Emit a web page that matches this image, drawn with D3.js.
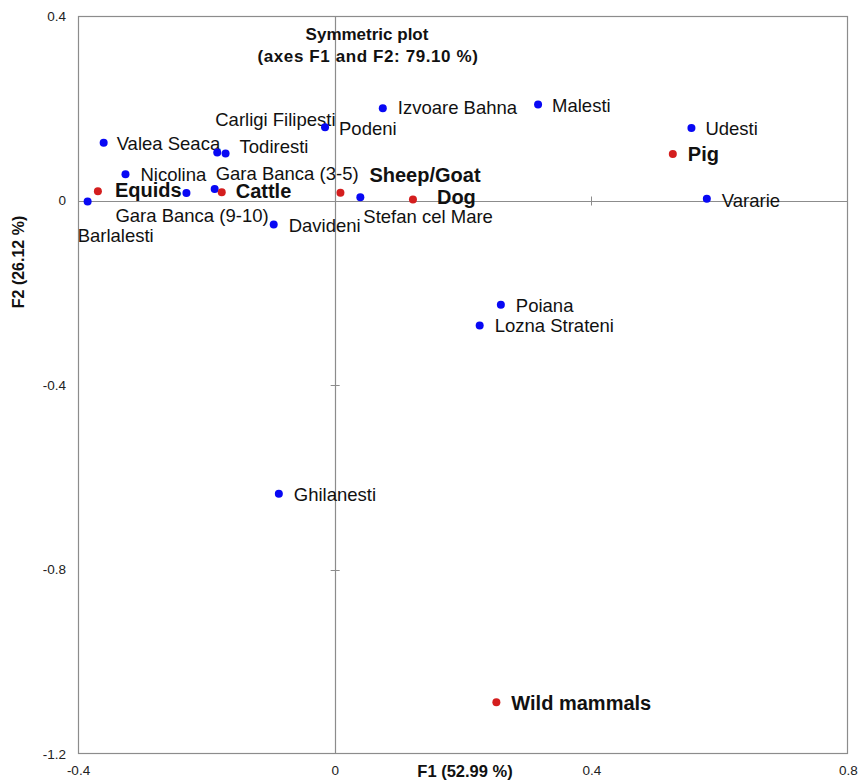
<!DOCTYPE html>
<html>
<head>
<meta charset="utf-8">
<script src="https://cdn.jsdelivr.net/npm/d3@7"></script>
<style>
  body { margin: 0; background: #fff; }
  svg { display: block; font-family: "Liberation Sans", Arial, sans-serif; }
</style>
</head>
<body>
<svg id="chart" width="859" height="781"></svg>
<script>
// Observations (sites), coordinates on F1 / F2
const siteNames = ["Barlalesti", "Valea Seaca", "Nicolina", "Gara Banca (9-10)", "Carligi Filipesti",
  "Todiresti", "Gara Banca (3-5)", "Davideni", "Podeni", "Izvoare Bahna", "Malesti",
  "Stefan cel Mare", "Udesti", "Vararie", "Poiana", "Lozna Strateni", "Ghilanesti"];
const siteF1 = [-0.385, -0.360, -0.326, -0.231, -0.183, -0.170, -0.187, -0.095, -0.015, 0.075, 0.317,
  0.040, 0.556, 0.580, 0.259, 0.226, -0.087];
const siteF2 = [-0.002, 0.125, 0.057, 0.016, 0.104, 0.102, 0.025, -0.052, 0.159, 0.200, 0.208,
  0.007, 0.157, 0.004, -0.226, -0.271, -0.636];

// Variables (taxa), coordinates on F1 / F2
const taxaNames = ["Equids", "Cattle", "Sheep/Goat", "Dog", "Pig", "Wild mammals"];
const taxaF1 = [-0.369, -0.176, 0.009, 0.122, 0.527, 0.252];
const taxaF2 = [0.020, 0.018, 0.017, 0.002, 0.101, -1.088];

// Axis ticks
const xTickValues = [-0.4, 0, 0.4, 0.8];
const yTickValues = [0.4, 0, -0.4, -0.8, -1.2];
const xTickLabels = ["-0.4", "0", "0.4", "0.8"];
const yTickLabels = ["0.4", "0", "-0.4", "-0.8", "-1.2"];

// Label offsets (px) from each point
const siteLabelOffsets = [[-10, 41], [13, 7], [15, 7], [-71, 29], [-2, -27], [14, 0], [1, -9], [15, 8],
  [14, 8], [15, 6], [14, 7], [3, 26], [14, 7], [15, 8], [15, 7], [15, 7], [15, 7]];
const taxaLabelOffsets = [[17, 6], [14, 6], [29, -11], [24, 4], [15, 7], [15, 8]];

const svg = d3.select("#chart");
const plotLeft = 78, plotRight = 848, plotTop = 16, plotBottom = 754;

const x = d3.scaleLinear().domain([-0.4, 0.8]).range([plotLeft, plotRight]);
const y = d3.scaleLinear().domain([-1.2, 0.4]).range([plotBottom, plotTop]);

const grey = "#8c8c8c";

// Plot frame
svg.append("rect")
  .attr("x", plotLeft + 0.5).attr("y", plotTop + 0.5)
  .attr("width", plotRight - plotLeft - 1).attr("height", plotBottom - plotTop - 1)
  .attr("fill", "none").attr("stroke", grey).attr("stroke-width", 1.2);

// Zero axes
svg.append("line")
  .attr("x1", Math.round(x(0)) + 0.5).attr("x2", Math.round(x(0)) + 0.5)
  .attr("y1", plotTop).attr("y2", plotBottom)
  .attr("stroke", grey).attr("stroke-width", 1.2);
svg.append("line")
  .attr("x1", plotLeft).attr("x2", plotRight)
  .attr("y1", Math.round(y(0)) + 0.5).attr("y2", Math.round(y(0)) + 0.5)
  .attr("stroke", grey).attr("stroke-width", 1.2);

// Cross ticks on the zero axes
svg.append("g").selectAll("line")
  .data(xTickValues.filter(v => v !== 0 && v > -0.4 && v < 0.8))
  .join("line")
  .attr("x1", d => Math.round(x(d)) + 0.5).attr("x2", d => Math.round(x(d)) + 0.5)
  .attr("y1", y(0) - 4).attr("y2", y(0) + 5)
  .attr("stroke", grey);
svg.append("g").selectAll("line")
  .data(yTickValues.filter(v => v !== 0 && v > -1.2 && v < 0.4))
  .join("line")
  .attr("y1", d => Math.round(y(d)) + 0.5).attr("y2", d => Math.round(y(d)) + 0.5)
  .attr("x1", x(0) - 4).attr("x2", x(0) + 5)
  .attr("stroke", grey);

// Tick labels
const xAxis = d3.axisBottom(x).tickValues(xTickValues)
  .tickFormat((d, i) => xTickLabels[i]).tickSize(0).tickPadding(11);
const gx = svg.append("g").attr("transform", `translate(0,${plotBottom})`).call(xAxis);
gx.select(".domain").remove();
gx.selectAll("text").attr("font-size", 13.5).attr("fill", "#222")
  .attr("font-family", "'Liberation Sans', Arial, sans-serif");

const yAxis = d3.axisLeft(y).tickValues(yTickValues)
  .tickFormat((d, i) => yTickLabels[i]).tickSize(0).tickPadding(12);
const gy = svg.append("g").attr("transform", `translate(${plotLeft},0)`).call(yAxis);
gy.select(".domain").remove();
gy.selectAll("text").attr("font-size", 13.5).attr("fill", "#222")
  .attr("font-family", "'Liberation Sans', Arial, sans-serif");

// Axis titles
svg.append("text")
  .attr("x", 465).attr("y", 777)
  .attr("text-anchor", "middle")
  .attr("font-size", 16.5).attr("font-weight", "bold").attr("fill", "#111")
  .text("F1 (52.99 %)");
svg.append("text")
  .attr("transform", "translate(24,262) rotate(-90)")
  .attr("text-anchor", "middle")
  .attr("font-size", 16).attr("font-weight", "bold").attr("fill", "#111")
  .text("F2 (26.12 %)");

// Chart title
const title = svg.append("text")
  .attr("text-anchor", "middle")
  .attr("font-size", 17).attr("font-weight", "bold").attr("fill", "#111");
title.append("tspan").attr("x", 367).attr("y", 40).text("Symmetric plot");
title.append("tspan").attr("x", 368).attr("y", 62).attr("letter-spacing", 0.6)
  .text("(axes F1 and F2: 79.10 %)");

// Point records
const sites = siteNames.map((n, i) => ({ name: n, f1: siteF1[i], f2: siteF2[i], off: siteLabelOffsets[i] }));
const taxa = taxaNames.map((n, i) => ({ name: n, f1: taxaF1[i], f2: taxaF2[i], off: taxaLabelOffsets[i] }));

// Labels
svg.append("g").selectAll("text")
  .data(sites).join("text")
  .attr("x", d => x(d.f1) + d.off[0])
  .attr("y", d => y(d.f2) + d.off[1])
  .attr("font-size", 18.5).attr("fill", "#111")
  .text(d => d.name);

svg.append("g").selectAll("text")
  .data(taxa).join("text")
  .attr("x", d => x(d.f1) + d.off[0])
  .attr("y", d => y(d.f2) + d.off[1])
  .attr("font-size", 20).attr("font-weight", "bold")
  .attr("fill", "#111")
  .text(d => d.name);

// Sites: blue points; taxa: red points
svg.append("g").selectAll("circle")
  .data(sites).join("circle")
  .attr("cx", d => x(d.f1)).attr("cy", d => y(d.f2))
  .attr("r", 4).attr("fill", "#0808f4");

svg.append("g").selectAll("circle")
  .data(taxa).join("circle")
  .attr("cx", d => x(d.f1)).attr("cy", d => y(d.f2))
  .attr("r", 4).attr("fill", "#d41e1e");
</script>
</body>
</html>
